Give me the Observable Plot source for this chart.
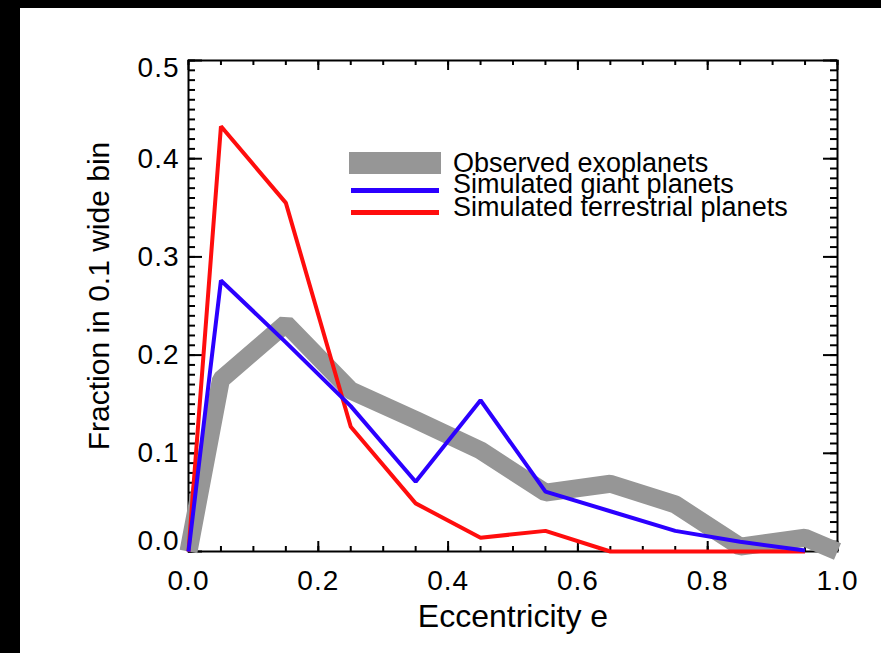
<!DOCTYPE html>
<html>
<head>
<meta charset="utf-8">
<script src="https://cdn.jsdelivr.net/npm/d3@7"></script>
<script src="https://cdn.jsdelivr.net/npm/@observablehq/plot@0.6"></script>
<style>
  html, body { margin: 0; padding: 0; background: #000; width: 881px; height: 653px; overflow: hidden; }
  #page { position: absolute; left: 20px; top: 8px; width: 861px; height: 645px; background: #fff; }
  #chart { position: absolute; left: 0; top: 0; }
  #legend { position: absolute; left: 0; top: 0; font-family: 'Liberation Sans', Arial, Helvetica, sans-serif; }
  .sw { position: absolute; }
  .lt { position: absolute; font-size: 27px; line-height: 22px; color: #000; white-space: nowrap; }
  g[aria-label$="tick label"] text { letter-spacing: 1px; }
</style>
</head>
<body>
<div id="page"></div>
<div id="chart"></div>
<div id="legend"></div>
<script>
// ---- data ----
const eccObserved = [0, 0.05, 0.15, 0.25, 0.35, 0.45, 0.55, 0.65, 0.75, 0.85, 0.95, 1.0];
const observed    = [0, 0.175, 0.232, 0.164, 0.134, 0.103, 0.060, 0.069, 0.048, 0.005, 0.014, 0.0];
const eccSim      = [0, 0.05, 0.15, 0.25, 0.35, 0.45, 0.55, 0.65, 0.75, 0.85, 0.95];
const giant       = [0, 0.276, 0.213, 0.148, 0.071, 0.154, 0.061, 0.041, 0.021, 0.010, 0.001];
const terrestrial = [0, 0.433, 0.355, 0.127, 0.049, 0.014, 0.021, 0, 0, 0, 0];

const seriesNames  = ["Observed exoplanets", "Simulated giant planets", "Simulated terrestrial planets"];
const seriesColors = ["#969696", "#2b00ff", "#ff0d0d"];

const xMajor = [0, 0.2, 0.4, 0.6, 0.8, 1.0];
const xMinor = d3.range(0, 21).map(i => i * 0.05);
const yMajor = [0, 0.1, 0.2, 0.3, 0.4, 0.5];
const yMinor = d3.range(0, 51).map(i => i * 0.01);
const yLabelsMid = [0.1, 0.2, 0.3, 0.4];

// ---- layout ----
const W = 881, H = 653;
const mL = 188, mR = 44, mT = 60, mB = 102;
const fw = W - mL - mR, fh = H - mT - mB;

const obsData = eccObserved.map((e, i) => ({e, v: observed[i]}));
const giantData = eccSim.map((e, i) => ({e, v: giant[i]}));
const terrData = eccSim.map((e, i) => ({e, v: terrestrial[i]}));

const fmt = d3.format(".1f");
const tickStyle = {stroke: "#000", strokeWidth: 2};
const tickFont = 28;

const chart = Plot.plot({
  width: W, height: H,
  marginLeft: mL, marginRight: mR, marginTop: mT, marginBottom: mB,
  style: {background: "transparent", overflow: "visible", fontFamily: "'Liberation Sans', Arial, Helvetica, sans-serif", color: "#000"},
  x: {domain: [0, 1]},
  y: {domain: [0, 0.5]},
  marks: [
    // inward ticks, bottom / top
    Plot.tickX(xMinor, {x: d => d, insetTop: fh - 5, ...tickStyle}),
    Plot.tickX(xMajor, {x: d => d, insetTop: fh - 10, ...tickStyle}),
    Plot.tickX(xMinor, {x: d => d, insetBottom: fh - 5, ...tickStyle}),
    Plot.tickX(xMajor, {x: d => d, insetBottom: fh - 10, ...tickStyle}),
    // inward ticks, left / right
    Plot.tickY(yMinor, {y: d => d, insetRight: fw - 7, ...tickStyle}),
    Plot.tickY(yMajor, {y: d => d, insetRight: fw - 14, ...tickStyle}),
    Plot.tickY(yMinor, {y: d => d, insetLeft: fw - 7, ...tickStyle}),
    Plot.tickY(yMajor, {y: d => d, insetLeft: fw - 14, ...tickStyle}),
    Plot.frame({stroke: "#000", strokeWidth: 2}),
    // tick labels
    Plot.axisX({ticks: xMajor, tickSize: 0, tickPadding: 19, tickFormat: fmt, fontSize: tickFont, label: null}),
    Plot.axisY({ticks: yLabelsMid, tickSize: 0, tickPadding: 9, tickFormat: fmt, fontSize: tickFont, label: null}),
    Plot.axisY({ticks: [0.5], tickSize: 0, tickPadding: 9, tickFormat: fmt, fontSize: tickFont, label: null, dy: 8}),
    Plot.axisY({ticks: [0], tickSize: 0, tickPadding: 9, tickFormat: fmt, fontSize: tickFont, label: null, dy: -10}),
    // axis titles
    Plot.text(["Eccentricity e"], {frameAnchor: "bottom", dy: 75, lineAnchor: "bottom", textAnchor: "middle", fontSize: 32, text: d => d, fill: "#000"}),
    Plot.text(["Fraction in 0.1 wide bin"], {frameAnchor: "left", rotate: -90, dx: -80, dy: -10, lineAnchor: "bottom", textAnchor: "middle", fontSize: 30, text: d => d, fill: "#000"}),
    // data lines
    Plot.line(obsData, {x: "e", y: "v", stroke: seriesColors[0], strokeWidth: 18, strokeLinejoin: "miter", strokeLinecap: "butt"}),
    Plot.line(terrData, {x: "e", y: "v", stroke: seriesColors[2], strokeWidth: 4, strokeLinejoin: "miter", strokeLinecap: "butt"}),
    Plot.line(giantData, {x: "e", y: "v", stroke: seriesColors[1], strokeWidth: 4, strokeLinejoin: "miter", strokeLinecap: "butt"})
  ]
});
document.getElementById("chart").appendChild(chart);

// ---- legend (HTML overlay) ----
const legend = document.getElementById("legend");
const swatches = [
  {left: 349, top: 152, w: 92, h: 22},
  {left: 351, top: 187.5, w: 88, h: 5},
  {left: 351, top: 210, w: 88, h: 5}
];
const textTops = [151.6, 173.4, 195.6];
seriesNames.forEach((name, i) => {
  const s = document.createElement("div");
  s.className = "sw";
  Object.assign(s.style, {left: swatches[i].left + "px", top: swatches[i].top + "px", width: swatches[i].w + "px", height: swatches[i].h + "px", background: seriesColors[i]});
  legend.appendChild(s);
  const t = document.createElement("div");
  t.className = "lt";
  t.textContent = name;
  Object.assign(t.style, {left: "453px", top: textTops[i] + "px"});
  legend.appendChild(t);
});
</script>
</body>
</html>
